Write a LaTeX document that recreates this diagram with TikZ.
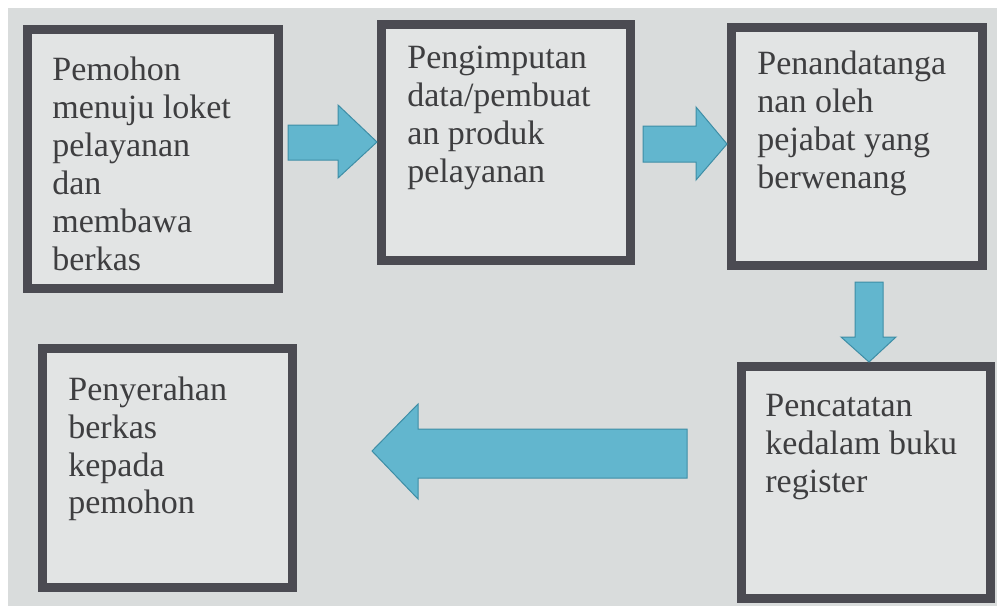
\documentclass[tikz,border=0pt]{standalone}
\usepackage{fontspec}
\setmainfont{Liberation Serif}
\usetikzlibrary{positioning}

\definecolor{latar}{RGB}{217,220,220}
\definecolor{isian}{RGB}{226,228,228}
\definecolor{garis}{RGB}{75,75,82}
\definecolor{biru}{RGB}{98,182,206}
\definecolor{birutua}{RGB}{62,142,166}
\definecolor{tinta}{RGB}{62,62,64}

\tikzset{
  kotak/.style={draw=garis, line width=4.5pt, fill=isian, anchor=north west, inner sep=0pt},
  teks/.style={anchor=north west, align=left, inner sep=0pt, text=tinta,
    font=\fontsize{17pt}{19pt}\selectfont},
  panah/.style={fill=biru, draw=birutua, line width=0.5pt, line join=miter}
}

\begin{document}
\begin{tikzpicture}[x=0.5pt,y=-0.5pt]
\fill[white] (0,0) rectangle (997,606);
\fill[latar] (8,8) rectangle (997,606);
\useasboundingbox (0,0) rectangle (997,606);

% kotak-kotak
\node[kotak, minimum width=125.5pt, minimum height=129.5pt] (pemohon) at (23,25) {};
\node[kotak, minimum width=124.5pt, minimum height=118pt] (input) at (377,20) {};
\node[kotak, minimum width=125.5pt, minimum height=119pt] (ttd) at (727,23) {};
\node[kotak, minimum width=124.5pt, minimum height=116pt] (catat) at (737,362) {};
\node[kotak, minimum width=125pt, minimum height=119.5pt] (serah) at (38,344) {};

% teks
\node[teks] (tpemohon) at ([shift={(29,32)}]pemohon.north west) {Pemohon\\menuju loket\\pelayanan\\dan\\membawa\\berkas};
\node[teks] (tinput) at ([shift={(30,26)}]input.north west) {Pengimputan\\data/pembuat\\an produk\\pelayanan};
\node[teks] (tttd) at ([shift={(30,28)}]ttd.north west) {Penandatanga\\nan oleh\\pejabat yang\\berwenang};
\node[teks] (tcatat) at ([shift={(28,32)}]catat.north west) {Pencatatan\\kedalam buku\\register};
\node[teks] (tserah) at ([shift={(30,32)}]serah.north west) {Penyerahan\\berkas\\kepada\\pemohon};

% panah
\draw[panah] (288,125) -- (338,125) -- (338,105) -- (input.west |- 0,142) -- (338,178) -- (338,160) -- (288,160) -- cycle;
\draw[panah] (643,126) -- (696,126) -- (696,107) -- (ttd.west |- 0,144) -- (696,180) -- (696,162) -- (643,162) -- cycle;
\draw[panah] (855,282) -- (883,282) -- (883,337) -- (896,337) -- (catat.north -| 869,0) -- (841,337) -- (855,337) -- cycle;
\draw[panah] (687,429) -- (418,429) -- (418,404) -- (372,451) -- (418,499) -- (418,478) -- (687,478) -- cycle;
\end{tikzpicture}
\end{document}
